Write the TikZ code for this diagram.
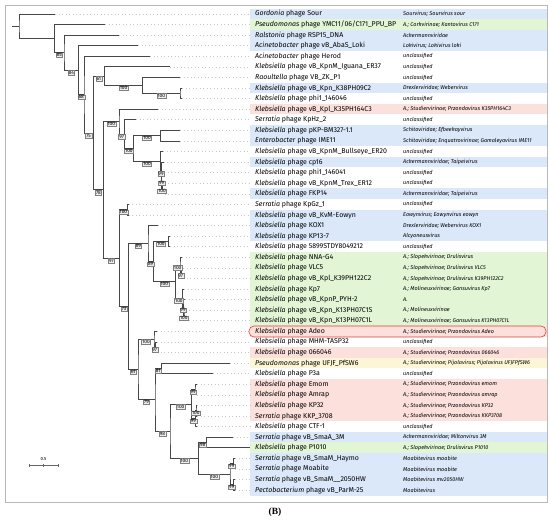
\documentclass[tikz,border=0pt]{standalone}
\usepackage{fontspec}
\setmainfont{Fira Sans}
\newfontfamily\figfont{Liberation Serif}
\usetikzlibrary{calc, positioning}

\definecolor{bandblue}{RGB}{218,232,250}
\definecolor{bandgreen}{RGB}{226,246,214}
\definecolor{bandred}{RGB}{251,224,219}
\definecolor{bandyellow}{RGB}{253,246,214}
\definecolor{adeored}{RGB}{228,60,55}

\tikzset{
    branch/.style={draw=black!72, line width=0.9pt},
    boot/.style={draw=black!50, fill=black!7, line width=0.3pt, inner xsep=0.8pt, inner ysep=0.6pt, font=\fontsize{4.8}{4.8}\selectfont},
    leader/.style={draw=black!22, line width=0.7pt, dash pattern=on 0.7pt off 2.8pt},
    leafname/.style={anchor=west, inner sep=0pt, font=\fontsize{7}{7.5}\selectfont},
    taxon/.style={anchor=west, inner sep=0pt, font=\fontsize{5.5}{5.5}\selectfont\itshape},
}

% clade: name, x, upper child, lower child
\newcommand\clade[4]{%
    \path let \p1=($(#3)!.5!(#4)$) in (#2pt,\y1) coordinate (#1);
    \draw[branch] (#3) -| (#1) |- (#4);
}
% support value on the branch parent -> child
\newcommand\bs[3]{\node[boot, yshift=-2.5pt] at ($(#2 -| #1)!.5!(#2)$) {#3};}

\begin{document}
\begin{tikzpicture}[x=1pt, y=-1pt]
    \useasboundingbox (0,0) rectangle (550,522);
    \fill[white] (0,0) rectangle (550,522);

    \foreach \tip/\gen/\rest/\tax/\col [count=\i] in {
        55/Gordonia/phage Sour/Sourvirus; Sourvirus sour/bandblue,
        105/Pseudomonas/{phage YMC11/06/C171\_PPU\_BP}/A.; Corkvirinae; Kantovirus C171/bandgreen,
        119/Ralstonia/phage RSP15\_DNA/Ackermannviridae/bandblue,
        138/Acinetobacter/phage vB\_AbaS\_Loki/Lokivirus; Lokivirus loki/bandblue,
        150/Acinetobacter/phage Herod/unclassified/white,
        170/Klebsiella/phage vB\_KpnM\_Iguana\_ER37/unclassified/white,
        180/Raoultella/phage VB\_ZK\_P1/unclassified/white,
        182/Klebsiella/phage vB\_Kpn\_K38PH09C2/Drexlerviridae; Webervirus/bandblue,
        182/Klebsiella/phage phi1\_146046/unclassified/white,
        158/Klebsiella/phage vB\_Kpl\_K35PH164C3/A.; Studiervirinae; Przondovirus K35PH164C3/bandred,
        136/Serratia/phage KpHz\_2/unclassified/white,
        180/Klebsiella/phage pKP-BM327-1.1/Schitoviridae; Efbeekayvirus/bandblue,
        180/Enterobacter/phage IME11/Schitoviridae; Enquatrovirinae; Gamaleyavirus IME11/bandblue,
        163/Klebsiella/phage vB\_KpnM\_Bullseye\_ER20/unclassified/white,
        163.5/Klebsiella/phage cp16/Ackermannviridae; Taipeivirus/bandblue,
        164/Klebsiella/phage phi1\_146041/unclassified/white,
        164.5/Klebsiella/phage vB\_KpnM\_Trex\_ER12/unclassified/white,
        164.5/Klebsiella/phage FKP14/Ackermannviridae; Taipeivirus/bandblue,
        128.5/Serratia/phage KpGz\_1/unclassified/white,
        128.5/Klebsiella/phage vB\_KvM-Eowyn/Eowynvirus; Eowynvirus eowyn/bandblue,
        158/Klebsiella/phage KOX1/Drexlerviridae; Webervirus KOX1/bandblue,
        170/Klebsiella/phage KP13-7/Alcyoneusvirus/bandblue,
        170/Klebsiella/phage 5899STDY8049212/unclassified/white,
        182/Klebsiella/phage NNA-G4/A.; Slopekvirinae; Drulisvirus/bandgreen,
        183/Klebsiella/phage VLC5/A.; Slopekvirinae; Drulisvirus VLC5/bandgreen,
        183/Klebsiella/phage vB\_Kpl\_K39PH122C2/A.; Slopekvirinae; Drulisvirus K39PH122C2/bandgreen,
        184/Klebsiella/phage Kp7/A.; Molineuxvirinae; Gansuvirus Kp7/bandgreen,
        185/Klebsiella/phage vB\_KpnP\_PYH-2/A./bandgreen,
        185.5/Klebsiella/phage vB\_Kpn\_K13PH07C1S/A.; Molineuxvirinae/bandgreen,
        185.5/Klebsiella/phage vB\_Kpn\_K13PH07C1L/A.; Molineuxvirinae; Gansuvirus K13PH07C1L/bandgreen,
        157/Klebsiella/phage Adeo/A.; Studiervirinae; Przondovirus Adeo/bandred,
        157/Klebsiella/phage MHM-TASP32/unclassified/white,
        157/Klebsiella/phage 066046/A.; Studiervirinae; Przondovirus 066046/bandred,
        230/Pseudomonas/phage UFJF\_PfSW6/A.; Studiervirinae; Pijolavirus; Pijolavirus UFJFPfSW6/bandyellow,
        213/Klebsiella/phage P3a/unclassified/white,
        197/Klebsiella/phage Emom/A.; Studiervirinae; Przondovirus emom/bandred,
        197/Klebsiella/phage Amrap/A.; Studiervirinae; Przondovirus amrap/bandred,
        197/Klebsiella/phage KP32/A.; Studiervirinae; Przondovirus KP32/bandred,
        197/Serratia/phage KKP\_3708/A.; Studiervirinae; Przondovirus KKP3708/bandred,
        197/Klebsiella/phage CTF-1/unclassified/white,
        233/Serratia/phage vB\_SmaA\_3M/Ackermannviridae; Miltonvirus 3M/bandblue,
        250/Klebsiella/phage P1010/A.; Slopekvirinae; Drulisvirus P1010/bandgreen,
        235/Serratia/phage vB\_SmaM\_Haymo/Moabitevirus moabite/bandblue,
        235/Serratia/phage Moabite/Moabitevirus moabite/bandblue,
        235/Serratia/phage vB\_SmaM\_\_2050HW/Moabitevirus mv2050HW/bandblue,
        235/Pectobacterium/phage vB\_ParM-25/Moabitevirus/bandblue} {
        \pgfmathsetmacro\yy{14+(\i-1)*10.58}
        \fill[\col] (250,\yy-5.4) rectangle (547,\yy+5.4);
        \coordinate (l\i) at (\tip,\yy);
        \draw[leader] (l\i) -- (250,\yy);
        \node[leafname] (name\i) at (255,\yy) {\textit{\gen} \rest};
        \node[taxon] (tax\i) at (403,\yy) {\tax};
    }

    \draw[black!28, line width=0.8pt] (5,5) rectangle (547,502);
    \draw[adeored, line width=0.6pt, rounded corners=5pt] (249,326) rectangle (546,337);

    % tree
    \clade{I}{180}{l8}{l9}
    \clade{H}{142.7}{l7}{I}
    \clade{G}{104.3}{l6}{H}
    \clade{R}{160.7}{l12}{l13}
    \clade{S4}{162.3}{l17}{l18}
    \clade{S3}{161.8}{l16}{S4}
    \clade{S2}{161.3}{l15}{S3}
    \clade{S}{160.7}{l14}{S2}
    \clade{Q}{133.5}{R}{S}
    \clade{P}{124.3}{l11}{Q}
    \clade{M}{119}{l10}{P}
    \clade{T}{127.3}{l19}{l20}
    \clade{Y}{168.5}{l22}{l23}
    \clade{Z1b}{181.5}{l25}{l26}
    \clade{Z1}{180}{l24}{Z1b}
    \clade{Z2c}{184}{l29}{l30}
    \clade{Z2b}{183.5}{l28}{Z2c}
    \clade{Z2}{182.5}{l27}{Z2b}
    \clade{Z}{175.3}{Z1}{Z2}
    \clade{X}{153.3}{Y}{Z}
    \clade{V}{148}{l21}{X}
    \clade{W1b}{155.5}{l32}{l33}
    \clade{W1}{154}{l31}{W1b}
    \clade{W3}{161.5}{l34}{l35}
    \clade{W5a}{195}{l36}{l37}
    \clade{W5c}{196}{l38}{l39}
    \clade{W5b}{195.5}{W5c}{l40}
    \clade{W5}{191.3}{W5a}{W5b}
    \clade{W7}{206.7}{l41}{l42}
    \clade{W8a}{233.5}{l43}{l44}
    \clade{W8b}{233.5}{l45}{l46}
    \clade{W8}{230}{W8a}{W8b}
    \clade{W6}{198.7}{W7}{W8}
    \clade{W4}{170}{W5}{W6}
    \clade{W2}{155}{W3}{W4}
    \clade{W}{138}{W1}{W2}
    \clade{U}{128.5}{V}{W}
    \clade{N}{119.5}{T}{U}
    \clade{K}{103.5}{M}{N}
    \clade{F}{93.3}{G}{K}
    \clade{E}{84}{l5}{F}
    \clade{D}{78.5}{l4}{E}
    \clade{C}{64}{l3}{D}
    \clade{B}{54.5}{l2}{C}
    \clade{A}{19}{l1}{B}
    \coordinate (stub) at ($(A)+(-7,0)$);
    \draw[branch] (stub) -- (A);

    % support values
    \bs{B}{C}{85}
    \bs{C}{D}{84}
    \bs{D}{E}{68}
    \bs{E}{F}{75}
    \bs{F}{G}{61}
    \bs{G}{H}{100}
    \bs{H}{I}{100}
    \bs{F}{K}{78}
    \bs{K}{M}{100}
    \bs{M}{P}{97}
    \bs{P}{Q}{100}
    \bs{Q}{R}{100}
    \bs{Q}{S}{100}
    \bs{S}{S2}{99}
    \bs{S2}{S3}{99}
    \bs{S3}{S4}{100}
    \bs{K}{N}{97}
    \bs{N}{T}{100}
    \bs{N}{U}{73}
    \bs{U}{V}{89}
    \bs{V}{X}{89}
    \bs{X}{Y}{100}
    \bs{X}{Z}{100}
    \bs{Z}{Z1}{100}
    \bs{Z1}{Z1b}{97}
    \bs{Z}{Z2}{100}
    \bs{Z2}{Z2b}{99}
    \bs{Z2b}{Z2c}{100}
    \bs{U}{W}{61}
    \bs{W}{W1}{100}
    \bs{W1}{W1b}{97}
    \bs{W}{W2}{79}
    \bs{W2}{W3}{81}
    \bs{W2}{W4}{98}
    \bs{W4}{W5}{100}
    \bs{W5}{W5a}{99}
    \bs{W5}{W5b}{99}
    \bs{W5b}{W5c}{100}
    \bs{W4}{W6}{100}
    \bs{W6}{W7}{98}
    \bs{W6}{W8}{100}
    \bs{W8}{W8a}{99}
    \bs{W8}{W8b}{99}

    % scale bar
    \coordinate (bar0) at (29,465);
    \coordinate (bar1) at (58,465);
    \draw[black!60, line width=0.4pt] (bar0) -- (bar1)
        (bar0) ++(0,-1.5) -- ++(0,3)
        (bar1) ++(0,-1.5) -- ++(0,3)
        ($(bar0)!.5!(bar1)$) ++(0,-1.5) -- ++(0,3);
    \node[font=\fontsize{4.5}{4.5}\selectfont, above=1pt of {$(bar0)!.5!(bar1)$}] (barlabel) {0.5};

    \node[font=\figfont\bfseries\fontsize{9.5}{10}\selectfont] (panel) at (275,512) {(B)};
\end{tikzpicture}
\end{document}
